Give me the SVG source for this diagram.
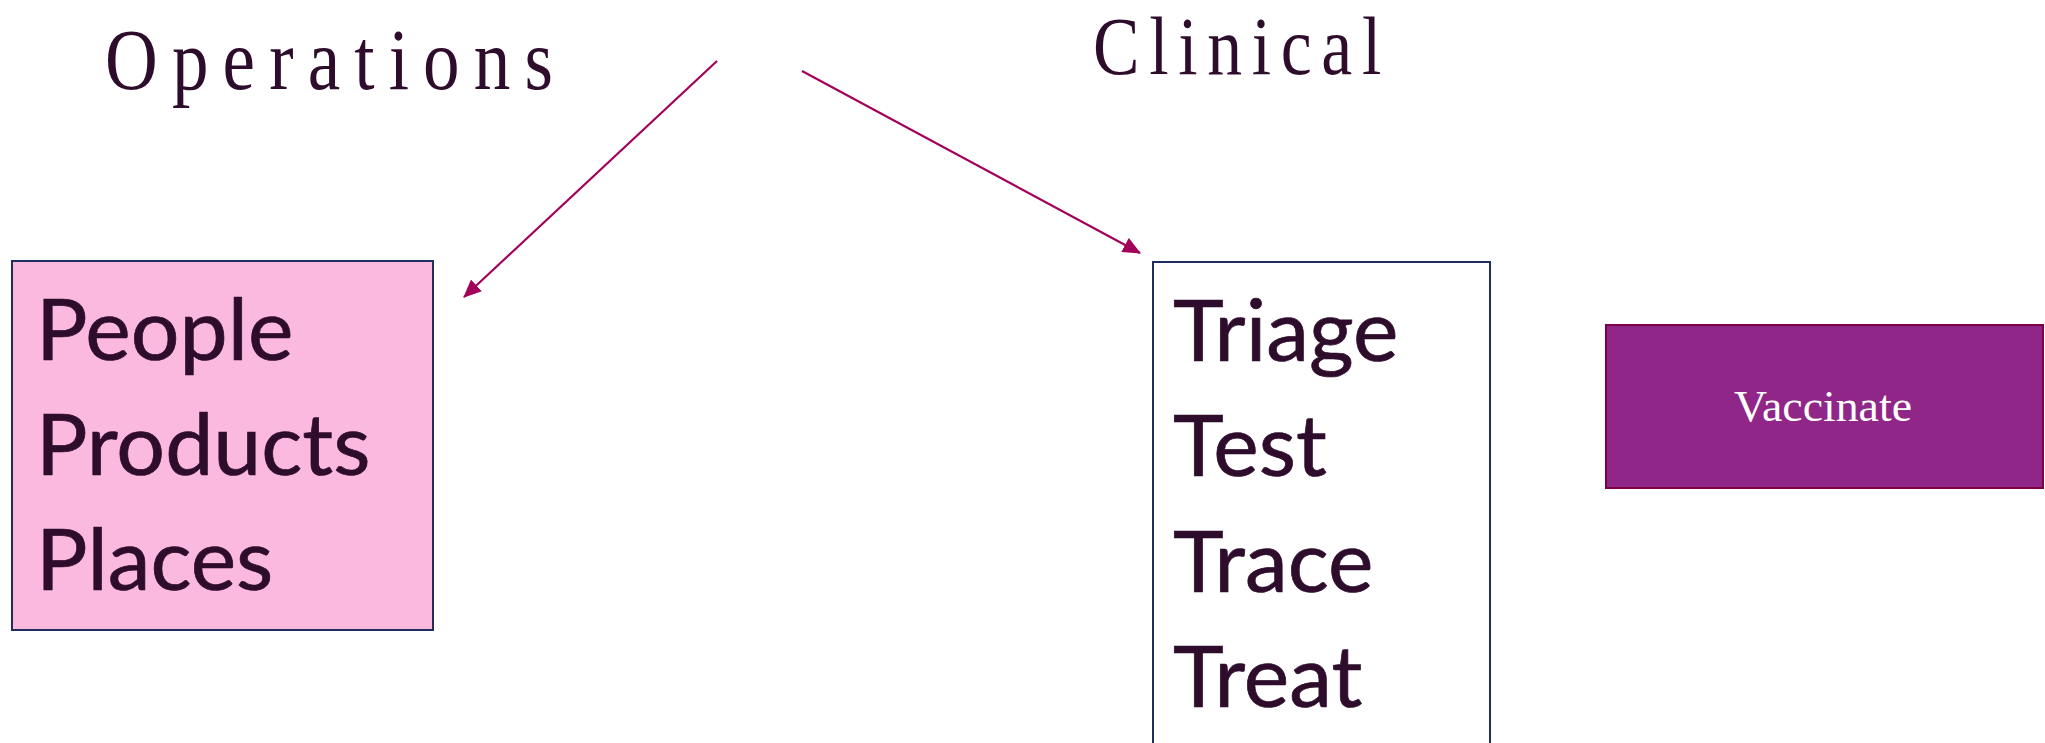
<svg xmlns="http://www.w3.org/2000/svg" width="2045" height="743" viewBox="0 0 2045 743">
<style>
.title{font-family:"Liberation Serif","Times New Roman",serif;font-size:86px;fill:#2E0C2C}
.item{font-family:Lato,"Open Sans",sans-serif;font-size:86px;fill:#2E0C2C;stroke:#2E0C2C;stroke-width:0.7}
.box{stroke:#1F2D5F;stroke-width:2}
.conn{stroke:#A3005A;stroke-width:2.2;fill:none}
</style>
<defs>
<marker id="arrh" markerWidth="18" markerHeight="16" refX="17" refY="8" orient="auto" markerUnits="userSpaceOnUse" viewBox="0 0 18 16">
<path d="M0,0 L18,8 L0,16 z" fill="#A3005A"/>
</marker>
</defs>
<rect width="2045" height="743" fill="#FFFFFF"/>
<g id="label-operations"><text class="title" transform="scale(0.85,1)" x="123.5" y="89" textLength="527" lengthAdjust="spacing">Operations</text></g>
<g id="label-clinical"><text class="title" transform="scale(0.85,1)" x="1286" y="74" font-size="82" textLength="339" lengthAdjust="spacing" style="font-size:82px">Clinical</text></g>
<g id="connectors">
<line class="conn" x1="717" y1="61" x2="464" y2="297" marker-end="url(#arrh)"/>
<line class="conn" x1="802" y1="71" x2="1140" y2="253" marker-end="url(#arrh)"/>
</g>
<g id="node-operations">
<rect class="box" x="12" y="261" width="421" height="369" fill="#FCB9DF"/>
<text class="item" x="36" y="360">People</text>
<text class="item" x="36" y="475">Products</text>
<text class="item" x="36" y="590">Places</text>
</g>
<g id="node-clinical">
<rect class="box" x="1153" y="262" width="337" height="500" fill="#FFFFFF"/>
<text class="item" x="1173" y="361">Triage</text>
<text class="item" x="1173" y="476">Test</text>
<text class="item" x="1173" y="592">Trace</text>
<text class="item" x="1173" y="707">Treat</text>
</g>
<g id="node-vaccinate">
<rect x="1606" y="325" width="437" height="163" fill="#912689" stroke="#7B0045" stroke-width="2"/>
<text x="1823" y="421" text-anchor="middle" font-family="Liberation Serif, Times New Roman, serif" font-size="44" fill="#FFFFFF" textLength="178" lengthAdjust="spacingAndGlyphs">Vaccinate</text>
</g>
</svg>
